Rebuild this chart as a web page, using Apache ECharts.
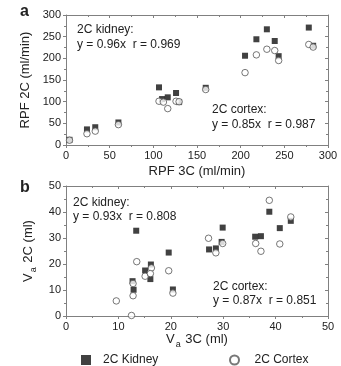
<!DOCTYPE html>
<html><head><meta charset="utf-8">
<script src="https://cdn.jsdelivr.net/npm/echarts@6/dist/echarts.min.js"></script>
<style>html,body{margin:0;padding:0;background:#fff}#c{width:341px;height:366px}</style>
</head><body><div id="c"></div>
<script>
// Panel a: RPF (ml/min)
const rpfTicks = [0, 50, 100, 150, 200, 250, 300];
const rpfKidney = [[4,12],[24,36],[33.5,41],[60,52],[106.5,133],[110,106],[116.5,110],[126,120],[129.5,99],[160,132],[205,206],[218,244],[230,267],[239,240],[243.5,205],[278,271],[283,229]];
const rpfCortex = [[4,11],[24,26],[33.5,32],[60,47],[106.5,101],[111.5,99],[116.5,84],[126,101],[129.5,100],[160,128],[205,167],[218,208],[230,221],[239,218],[243.5,195],[278,232],[283,226]];
// Panel b: Va (ml)
const vaTicks = [0, 10, 20, 30, 40, 50];
const vaKidney = [[12.7,13.4],[12.9,10.1],[13.4,32.8],[15.1,17.5],[16.2,19.8],[16.1,14.2],[19.6,24.4],[20.4,10.2],[27.3,25.6],[28.6,26],[29.9,34],[29.7,28.5],[36.1,30.5],[37.2,30.7],[38.8,40.1],[40.8,33.8],[42.9,36.6]];
const vaCortex = [[9.6,5.8],[12.8,12.5],[12.8,7.8],[12.5,0.2],[13.5,20.9],[15.1,15.3],[16.3,18.5],[16.1,16.3],[19.6,17.4],[20.4,8.8],[27.2,29.9],[28.6,24.3],[29.9,27.9],[36.2,27.9],[37.2,24.9],[38.8,44.5],[40.8,27.7],[42.9,38.1]];
const seriesNames = ['2C Kidney', '2C Cortex'];

const FONT = 'Liberation Sans, Arial, sans-serif';
const TXT = '#222';
const AX = '#808080';

function axisPair(kind, grid, ticks, name, nameGap, richName) {
  const min = ticks[0], max = ticks[ticks.length - 1], interval = ticks[1] - ticks[0];
  const main = {
    type: 'value', gridIndex: grid, min, max, interval,
    position: kind === 'x' ? 'bottom' : 'left',
    axisLine: {show: true, onZero: false, lineStyle: {color: AX, width: 1}},
    axisTick: {show: true, inside: false, length: 3, lineStyle: {color: AX}},
    minorTick: {show: true, splitNumber: 2, length: 2, lineStyle: {color: AX}},
    splitLine: {show: false},
    axisLabel: {color: TXT, fontSize: 11, fontFamily: FONT, margin: 5},
    name, nameLocation: 'middle', nameGap,
    nameTextStyle: richName ? {color: TXT, fontFamily: FONT, rich: richName} : {color: TXT, fontSize: 13, fontFamily: FONT}
  };
  const mirror = {
    type: 'value', gridIndex: grid, min, max, interval,
    position: kind === 'x' ? 'top' : 'right',
    axisLine: {show: true, onZero: false, lineStyle: {color: AX, width: 1}},
    axisTick: {show: true, inside: true, length: 3, lineStyle: {color: AX}},
    minorTick: {show: true, splitNumber: 2, length: 2, lineStyle: {color: AX}},
    splitLine: {show: false},
    axisLabel: {show: false}
  };
  return [main, mirror];
}

const subRich = {
  v: {fontSize: 13, fontFamily: FONT, color: TXT, verticalAlign: 'top'},
  s: {fontSize: 9, fontFamily: FONT, color: TXT, verticalAlign: 'top', padding: [7, 1, 0, 1]}
};

const [xa, xa2] = axisPair('x', 0, rpfTicks, 'RPF 3C (ml/min)', 20);
const [ya, ya2] = axisPair('y', 0, rpfTicks, 'RPF 2C (ml/min)', 32);
const [xb, xb2] = axisPair('x', 1, vaTicks, '{v|V}{s|a}{v| 3C (ml)}', 16, subRich);
const [yb, yb2] = axisPair('y', 1, vaTicks, '{v|V}{s|a}{v| 2C (ml)}', 28, subRich);

const kidneyStyle = {color: '#111'};
const cortexStyle = {color: '#fff', borderColor: '#555', borderWidth: 1};

function sc(name, data, xi, yi, isK) {
  return {
    type: 'scatter', name, data, xAxisIndex: xi, yAxisIndex: yi,
    symbol: isK ? 'rect' : 'circle', symbolSize: isK ? 6 : 6.5,
    itemStyle: isK ? kidneyStyle : cortexStyle,
    z: isK ? 2 : 3, clip: true, emphasis: {disabled: true}
  };
}

function txt(text, x, y, size, bold) {
  return {type: 'text', x, y, style: {text, font: (bold ? 'bold ' : '') + size + 'px ' + FONT, fill: TXT, verticalAlign: 'middle', align: 'left'}};
}

const chart = echarts.init(document.getElementById('c'), null, {renderer: 'canvas'});
chart.setOption({
  animation: false,
  backgroundColor: '#fff',
  grid: [
    {left: 66, top: 15, width: 262, height: 130},
    {left: 66, top: 186, width: 262, height: 130}
  ],
  xAxis: [xa, xa2, xb, xb2],
  yAxis: [ya, ya2, yb, yb2],
  legend: [
    {data: [{name: seriesNames[0], icon: 'rect'}], left: 76, top: 349, itemWidth: 10, itemHeight: 10,
     textStyle: {color: TXT, fontSize: 12, fontFamily: FONT, padding: [0,0,0,7]}, selectedMode: false},
    {data: [{name: seriesNames[1], icon: 'circle'}], left: 224, top: 349, itemWidth: 10, itemHeight: 9,
     textStyle: {color: TXT, fontSize: 12, fontFamily: FONT, padding: [0,0,0,10]}, selectedMode: false}
  ],
  series: [
    sc(seriesNames[0], rpfKidney, 0, 0, true),
    sc(seriesNames[1], rpfCortex, 0, 0, false),
    sc(seriesNames[0], vaKidney, 2, 2, true),
    sc(seriesNames[1], vaCortex, 2, 2, false)
  ],
  graphic: [
    txt('a', 20, 12, 16, true),
    txt('b', 20, 188, 16, true),
    txt('2C kidney:', 77, 30, 12),
    txt('y = 0.96x  r = 0.969', 77, 45, 12),
    txt('2C cortex:', 212, 110, 12),
    txt('y = 0.85x  r = 0.987', 212, 125, 12),
    txt('2C kidney:', 73, 203, 12),
    txt('y = 0.93x  r = 0.808', 73, 217, 12),
    txt('2C cortex:', 213, 287, 12),
    txt('y = 0.87x  r = 0.851', 213, 301, 12)
  ]
});
</script></body></html>
